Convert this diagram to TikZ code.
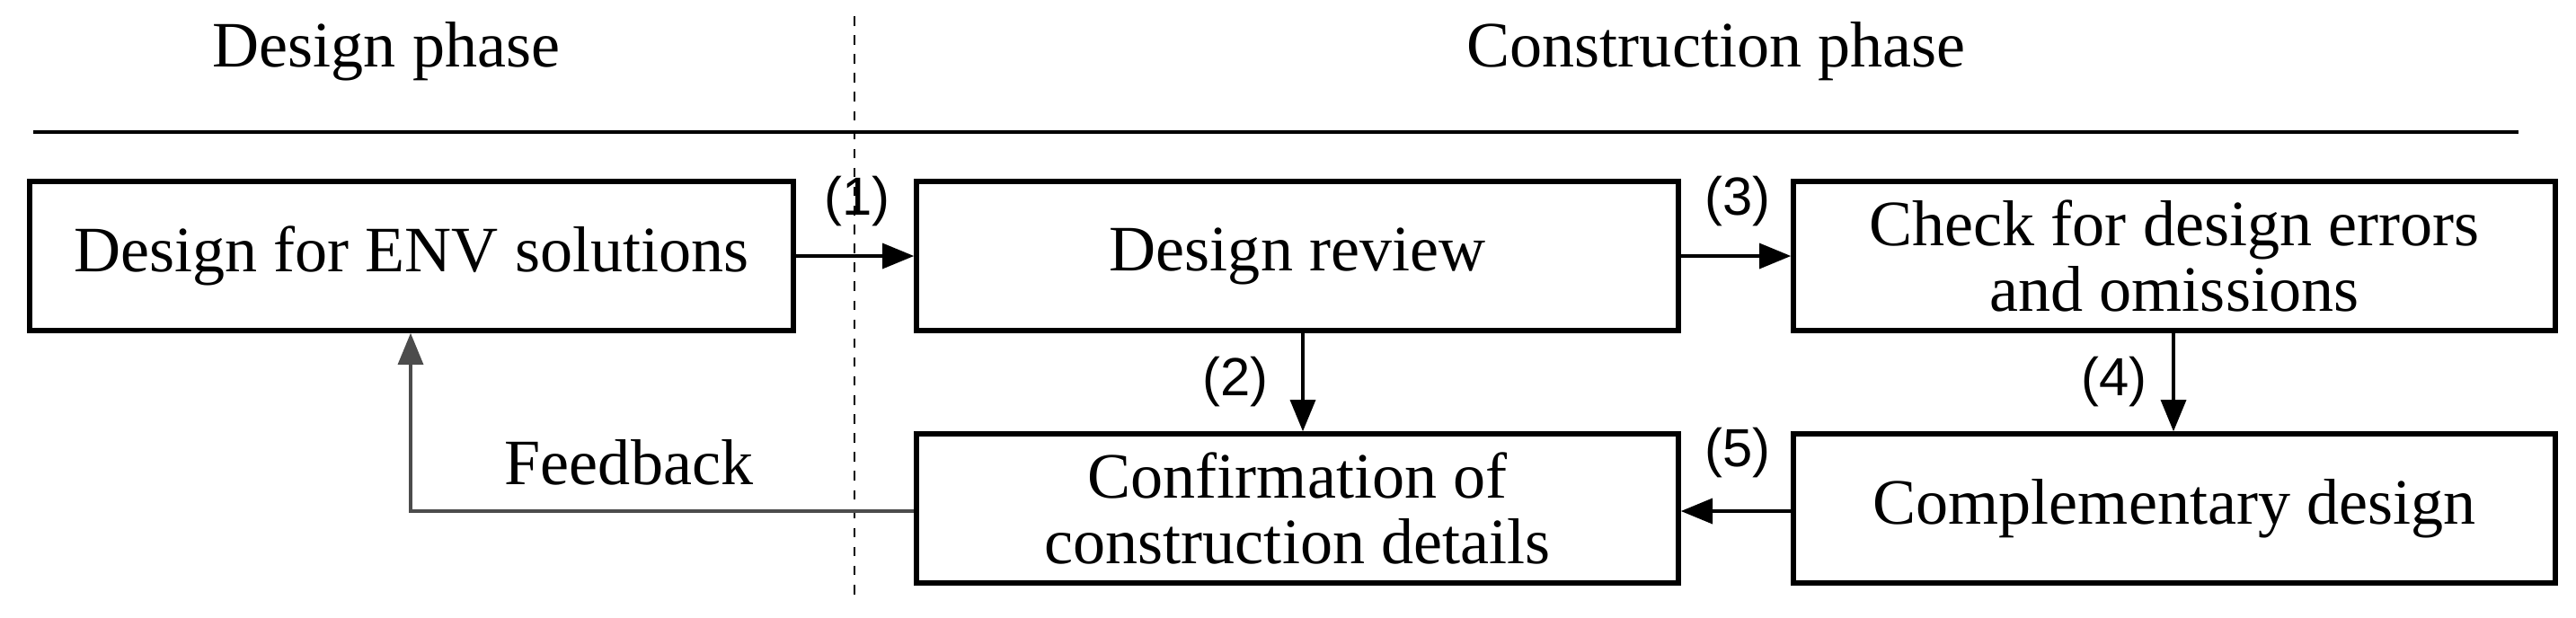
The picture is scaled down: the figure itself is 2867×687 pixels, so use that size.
\documentclass[tikz,border=0pt]{standalone}
\usepackage{fontspec}
\setmainfont{Liberation Serif}
\newfontfamily\numfont{Liberation Sans}
\usetikzlibrary{arrows.meta}
\begin{document}
\begin{tikzpicture}[x=0.01cm,y=-0.01cm,
  txt/.style={font=\fontsize{20.5}{21}\selectfont},
  box/.style={draw,line width=1.6pt,align=center,txt,inner sep=0pt,minimum width=848*0.01cm,minimum height=166*0.01cm},
  lab/.style={font=\numfont\fontsize{17}{20}\selectfont},
  arr/.style={-{Triangle[length=10pt,width=8pt]},line width=0.9pt}]
\useasboundingbox (0,0) rectangle (2867,687);
\node[txt] (t1) at (430,57) {Design phase};
\node[txt] (t2) at (1910,57) {Construction phase};
\draw[line width=1.2pt] (37,147) coordinate (h1) -- (2803,147) coordinate (h2);
\draw[dashed,line width=0.6pt] (951,18) coordinate (v1) -- (951,671) coordinate (v2);
\node[box,minimum width=850*0.01cm] (A) at (458,285) {Design for ENV solutions};
\node[box] (B) at (1444,285) {Design review};
\node[box] (C) at (2420,285) {Check for design errors\\and omissions};
\node[box] (D) at (1444,566) {Confirmation of\\construction details};
\node[box] (E) at (2420,566) {Complementary design};
\draw[arr] (A.east) -- (B.west);
\node[lab] (l1) at (954,224) {(1)};
\draw[arr] (B.east) -- (C.west);
\node[lab] (l3) at (1934,224) {(3)};
\draw[arr] (B.south -| 1450,0) -- (D.north -| 1450,0);
\node[lab] (l2) at (1375,425) {(2)};
\draw[arr] (C.south -| 2419,0) -- (E.north -| 2419,0);
\node[lab] (l4) at (2353,425) {(4)};
\draw[arr] (E.west |- 0,569) -- (D.east |- 0,569);
\node[lab] (l5) at (1934,504) {(5)};
\draw[arr,draw=black!70] (D.west |- 0,569) -- (457,569) coordinate (f) -- (A.south -| f);
\node[txt] (fb) at (700,515) {Feedback};
\end{tikzpicture}
\end{document}
